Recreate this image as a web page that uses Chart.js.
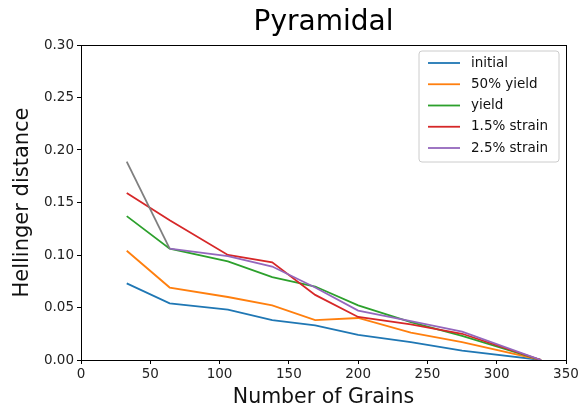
<!DOCTYPE html>
<html>
<head>
<meta charset="utf-8">
<script src="https://cdn.jsdelivr.net/npm/chart.js@4/dist/chart.umd.min.js"></script>
<style>
  html, body { margin: 0; padding: 0; background: #fff; }
  #wrap { width: 583px; height: 414px; }
</style>
</head>
<body>
<div id="wrap"><canvas id="c" width="583" height="414"></canvas></div>
<script>
// Number of grains sampled
const grains = [33, 64, 106, 138, 169, 200, 238, 275, 332];

// Hellinger distance for each loading state
const initial     = [0.073, 0.054, 0.048, 0.038, 0.033, 0.024, 0.017, 0.009, 0.0];
const yield50     = [0.104, 0.069, 0.060, 0.052, 0.038, 0.040, 0.026, 0.017, 0.0];
const yieldPt     = [0.137, 0.106, 0.094, 0.079, 0.070, 0.052, 0.036, 0.023, 0.0];
const strain15    = [0.159, 0.133, 0.100, 0.093, 0.062, 0.041, 0.034, 0.025, 0.0];
const strain25    = [0.189, 0.106, 0.099, 0.089, 0.069, 0.047, 0.037, 0.027, 0.0];

const seriesNames = ['initial', '50% yield', 'yield', '1.5% strain', '2.5% strain'];
const seriesData  = [initial, yield50, yieldPt, strain15, strain25];
const colors      = ['#1f77b4', '#ff7f0e', '#2ca02c', '#d62728', '#9467bd'];

const xTicks = [0, 50, 100, 150, 200, 250, 300, 350];
const yTicks = [0, 0.05, 0.10, 0.15, 0.20, 0.25, 0.30];

const FONT = "'DejaVu Sans', sans-serif";

const datasets = seriesData.map((vals, i) => ({
  label: seriesNames[i],
  data: grains.map((g, k) => ({ x: g, y: vals[k] })),
  borderColor: colors[i],
  backgroundColor: colors[i],
  borderWidth: 1.8,
  pointRadius: 0,
  tension: 0,
  fill: false,
  order: seriesData.length - i,
  // the first segment of the last series is drawn in grey
  segment: i === 4 ? { borderColor: ctx => ctx.p0DataIndex === 0 ? '#7f7f7f' : undefined } : undefined
}));

// Center the title over the plotting area rather than the whole canvas
const titleOverPlot = {
  id: 'titleOverPlot',
  afterLayout(chart) {
    const t = chart.titleBlock, a = chart.chartArea;
    if (t) { t.left = a.left; t.right = a.right; t.width = a.right - a.left; }
  }
};

// Boxed frame around the plotting area
const framePlugin = {
  id: 'frame',
  afterDraw(chart) {
    const a = chart.chartArea, c = chart.ctx;
    c.save();
    c.strokeStyle = '#000';
    c.lineWidth = 1;
    c.strokeRect(Math.round(a.left) + 0.5, Math.round(a.top) + 0.5,
                 Math.round(a.right - a.left), Math.round(a.bottom - a.top));
    c.restore();
  }
};

// Legend drawn inside the upper-right corner of the plot
const insideLegend = {
  id: 'insideLegend',
  afterDraw(chart) {
    const c = chart.ctx, a = chart.chartArea;
    const right = a.right - 7, top = a.top + 6;
    const w = 140, h = 111;
    const left = right - w;
    c.save();
    c.fillStyle = 'rgba(255,255,255,0.8)';
    c.strokeStyle = '#cccccc';
    c.lineWidth = 1;
    const r = 3;
    c.beginPath();
    c.moveTo(left + r, top);
    c.lineTo(left + w - r, top); c.quadraticCurveTo(left + w, top, left + w, top + r);
    c.lineTo(left + w, top + h - r); c.quadraticCurveTo(left + w, top + h, left + w - r, top + h);
    c.lineTo(left + r, top + h); c.quadraticCurveTo(left, top + h, left, top + h - r);
    c.lineTo(left, top + r); c.quadraticCurveTo(left, top, left + r, top);
    c.closePath();
    c.fill(); c.stroke();
    c.font = '13.5px ' + FONT;
    c.textBaseline = 'middle';
    c.textAlign = 'left';
    chart.data.datasets.forEach((ds, i) => {
      const y = top + 12 + i * 21.25;
      c.strokeStyle = ds.borderColor;
      c.lineWidth = 1.8;
      c.beginPath();
      c.moveTo(left + 9, y); c.lineTo(left + 41, y);
      c.stroke();
      c.fillStyle = '#111';
      c.fillText(ds.label, left + 52, y);
    });
    c.restore();
  }
};

new Chart(document.getElementById('c'), {
  type: 'line',
  data: { datasets },
  options: {
    responsive: false,
    animation: false,
    devicePixelRatio: 1,
    layout: { padding: { top: 0, right: 17, bottom: 0, left: 0 } },
    plugins: {
      legend: { display: false },
      tooltip: { enabled: false },
      title: {
        display: true,
        text: 'Pyramidal',
        color: '#000',
        font: { family: FONT, size: 28, weight: 'normal', lineHeight: 1.2 },
        padding: { top: 6, bottom: 5.4 }
      }
    },
    scales: {
      x: {
        type: 'linear',
        min: 0, max: 350,
        afterFit: s => { s.height = 54; },
        afterBuildTicks: s => { s.ticks = xTicks.map(v => ({ value: v })); },
        ticks: { color: '#222', font: { family: FONT, size: 13.5 }, padding: 2, maxRotation: 0,
                 callback: v => String(v) },
        grid: { display: true, drawOnChartArea: false, drawTicks: true, tickLength: 4, color: '#000' },
        border: { display: true, color: '#000', width: 1 },
        title: { display: true, text: 'Number of Grains', color: '#111',
                 font: { family: FONT, size: 20.5, lineHeight: 1.2 }, padding: { top: 0, bottom: 4 } }
      },
      y: {
        type: 'linear',
        min: 0, max: 0.30,
        afterFit: s => { s.width = 81; },
        afterBuildTicks: s => { s.ticks = yTicks.map(v => ({ value: v })); },
        ticks: { color: '#222', font: { family: FONT, size: 13.5 }, padding: 3,
                 callback: v => Number(v).toFixed(2) },
        grid: { display: true, drawOnChartArea: false, drawTicks: true, tickLength: 4, color: '#000' },
        border: { display: true, color: '#000', width: 1 },
        title: { display: true, text: 'Hellinger distance', color: '#111',
                 font: { family: FONT, size: 21, lineHeight: 1.2 }, padding: { top: 10, bottom: 0 } }
      }
    }
  },
  plugins: [titleOverPlot, framePlugin, insideLegend]
});
</script>
</body>
</html>
